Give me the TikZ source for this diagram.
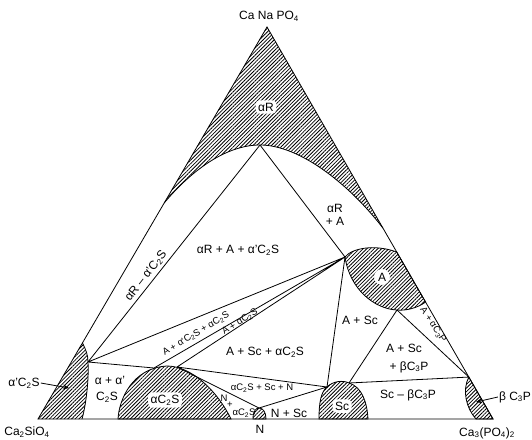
\documentclass[tikz,border=0pt]{standalone}
\usepackage{fontspec}
\setmainfont{Liberation Sans}
\usetikzlibrary{patterns.meta,arrows.meta,calc}
\begin{document}
\begin{tikzpicture}[x=1pt,y=-1pt,
  hatch/.style={pattern={Lines[angle=45,distance=2.6pt,line width=0.8pt]}},
  bnd/.style={line width=0.8pt},
  lbl/.style={font=\fontsize{12}{13}\selectfont, inner sep=1pt},
  sm/.style={font=\fontsize{9.5}{10}\selectfont, inner sep=0.5pt},
  wlbl/.style={lbl, fill=white, rounded corners=4pt, inner sep=2.5pt},
  arr/.style={line width=0.8pt,-{Stealth[length=6pt,width=5pt]}}
]
\useasboundingbox (0,0) rectangle (532,439);
% corners
\coordinate (T) at (267,27);
\coordinate (L) at (38,419);
\coordinate (R) at (493,419);
% points on edges
\coordinate (cl) at ($(T)!0.449!(L)$);
\coordinate (cr) at ($(T)!0.513!(R)$);
\coordinate (Ltop) at ($(T)!0.806!(L)$);
\coordinate (Ar1) at ($(T)!0.574!(R)$);
\coordinate (Ar2) at ($(T)!0.7015!(R)$);
\coordinate (BP) at ($(T)!0.893!(R)$);
% inner points
\coordinate (pk) at (260,145);
\coordinate (P1) at (88,362);
\coordinate (AL) at (345,257);
\coordinate (AB) at (397,310);
\coordinate (D1) at (154,368);
\coordinate (D2) at (177,367);
\coordinate (Nn) at (259,408);
\coordinate (S1) at (327,387);
\coordinate (S2) at (349,383);
\coordinate (Lb) at (82,419);

% hatched regions
\fill[hatch] (T) -- (cl) .. controls (190,172) and (225,145) .. (pk)
  .. controls (300,145) and (350,185) .. (cr) -- cycle;
\draw[bnd] (cl) .. controls (190,172) and (225,145) .. (pk)
  .. controls (300,145) and (350,185) .. (cr);
\fill[hatch] (Ltop) .. controls (86,350) and (88,355) .. (P1)
  .. controls (89,380) and (86,405) .. (Lb) -- (L) -- cycle;
\draw[bnd] (Ltop) .. controls (86,350) and (88,355) .. (P1)
  .. controls (89,380) and (86,405) .. (Lb);
\draw[bnd,hatch] (118,419) .. controls (119,400) and (132,368) .. (167,366)
  .. controls (192,366) and (218,392) .. (231,419) -- cycle;
\draw[bnd,hatch] (253,419) .. controls (253,411) and (256,408) .. (Nn)
  .. controls (263,408) and (266,412) .. (266,419) -- cycle;
\draw[bnd,hatch] (319,419) .. controls (319,402) and (321,392) .. (S1)
  .. controls (333,381) and (343,380) .. (S2)
  .. controls (362,387) and (367,402) .. (368,419) -- cycle;
\draw[bnd,hatch] (AL) .. controls (352,248) and (375,244) .. (Ar1) -- (Ar2)
  .. controls (418,308) and (405,311) .. (AB)
  .. controls (375,309) and (350,290) .. (AL) -- cycle;
\draw[bnd,hatch] (BP) .. controls (462,390) and (466,408) .. (476,419) -- (R) -- cycle;

% tie lines
\draw[bnd] (pk) -- (P1) (pk) -- (AL) (P1) -- (AL)
  (P1) -- (D1) (D1) -- (AL) (D2) -- (AL) (D2) -- (S1) (D2) -- (Nn)
  (Nn) -- (S1) (AL) -- (S1) (AB) -- (S2) (S2) -- (BP) (AB) -- (BP);
% triangle
\draw[bnd] (T) -- (L) -- (R) -- cycle;

% labels
\node[wlbl] (laR) at (266,107) {αR};
\node[lbl] (l1) at (238,250) {αR + A + α’C\textsubscript{2}S};
\node[lbl, rotate=52] (l2) at (146,276) {αR – α’C\textsubscript{2}S};
\node[lbl, align=center] (l3) at (335,215) {αR\\+ A};
\node[wlbl, circle, inner sep=1.5pt] (lA) at (382,277) {A};
\node[lbl] (l4) at (360,320) {A + Sc};
\node[lbl] (l5) at (404,348) {A + Sc};
\node[lbl] (l6) at (409,367) {+ βC\textsubscript{3}P};
\node[lbl] (l7) at (408,395) {Sc – βC\textsubscript{3}P};
\node[sm, rotate=-57] (l8) at (433,325) {A + αC\textsubscript{3}P};
\node[sm, rotate=31] (l9) at (196,334) {A + α’C\textsubscript{2}S + αC\textsubscript{2}S};
\node[sm, rotate=32] (l10) at (240,322) {A + αC\textsubscript{2}S};
\node[lbl] (l11) at (265,352) {A + Sc + αC\textsubscript{2}S};
\node[sm] (l12) at (262,388) {αC\textsubscript{2}S + Sc + N};
\node[lbl] (l13) at (289,413) {N + Sc};
\node[wlbl] (lSc) at (342,406) {Sc};
\node[wlbl] (laC) at (165,400) {αC\textsubscript{2}S};
\node[lbl] (l14) at (110,380) {α + α’};
\node[lbl] (l15) at (107,397) {C\textsubscript{2}S};
\node[sm] (l16) at (224,398) {N};
\node[sm] (l17) at (230,405) {+};
\node[sm] (l18) at (244,413) {αC\textsubscript{2}S};
\node[lbl] (lN) at (260,429) {N};
\node[lbl] (lT) at (269,16) {Ca Na PO\textsubscript{4}};
\node[lbl] (lL) at (27,432) {Ca\textsubscript{2}SiO\textsubscript{4}};
\node[lbl] (lR) at (487,433) {Ca\textsubscript{3}(PO\textsubscript{4})\textsubscript{2}};
\node[lbl] (ac) at (24,383) {α’C\textsubscript{2}S};
\node[lbl] (bc) at (515,397) {β C\textsubscript{3}P};
\coordinate (acT) at (69,388);
\coordinate (bcT) at (476,402);
\draw[arr] (ac.east) -- (acT);
\draw[arr] (bc.west) -- (bcT);
\end{tikzpicture}
\end{document}
